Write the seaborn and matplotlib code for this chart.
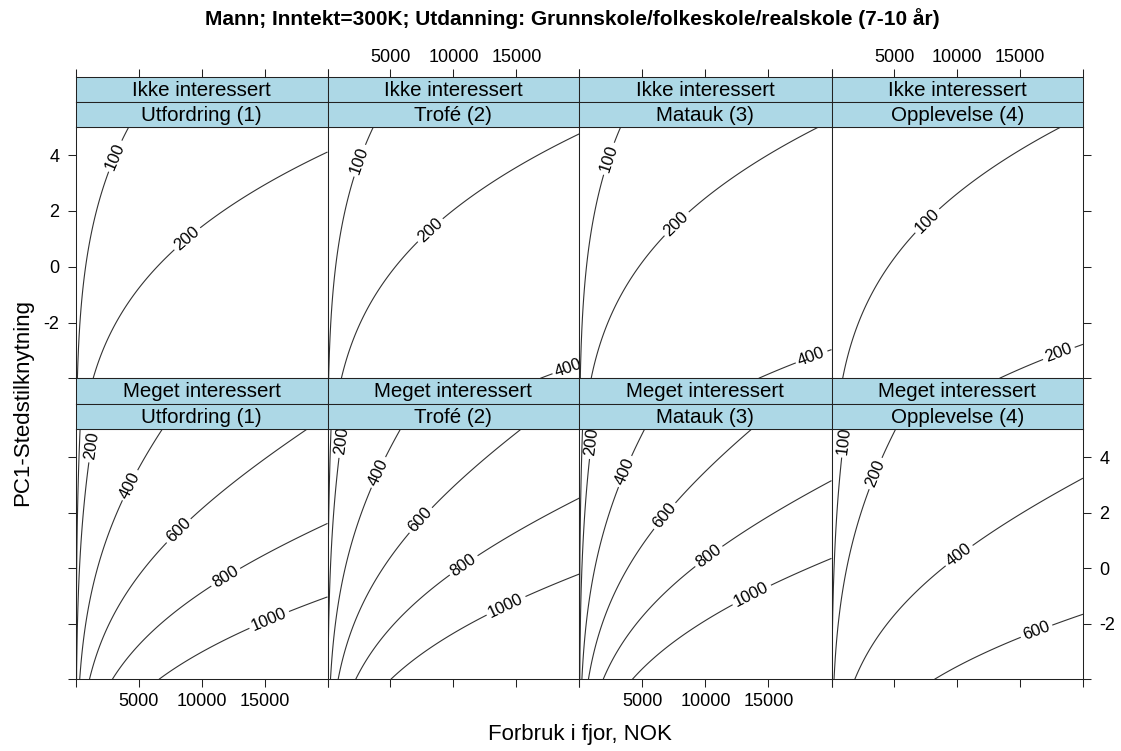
import numpy as np
import pandas as pd
import matplotlib
matplotlib.use("Agg")
import matplotlib.pyplot as plt
import seaborn as sns

# ---- text -------------------------------------------------------------
title = "Mann; Inntekt=300K; Utdanning: Grunnskole/folkeskole/realskole (7-10 år)"
x_label = "Forbruk i fjor, NOK"
y_label = "PC1-Stedstilknytning"

interest_levels = ["Ikke interessert", "Meget interessert"]
motive_levels = ["Utfordring (1)", "Trofé (2)", "Matauk (3)", "Opplevelse (4)"]

# ---- fitted model on the log scale ---------------------------------------
# log(verdi) = intercept[motiv] + b_L*L + b_L2*L^2 + b_pc1*pc1 + b_Lpc1*L*pc1 + b_pc1_2*pc1^2
# with L = log(1 + forbruk); one coefficient set per interest level
intercept_ikke = [2.190, 2.247, 2.28884, 1.61101]
intercept_meget = [2.69998, 2.77176, 2.81970, 2.13318]
coef_ikke = {"L": 0.39335, "L2": -0.00445, "pc1": -0.24427, "L_pc1": 0.01625, "pc1_2": -0.00047}
coef_meget = {"L": 0.52207, "L2": -0.01073, "pc1": -0.26305, "L_pc1": 0.01795, "pc1_2": 0.00159}

contour_levels = [100, 200, 400, 600, 800, 1000]
forbruk_range = [0, 20000]
pc1_range = [-4, 5]
x_ticks = [0, 5000, 10000, 15000, 20000]
x_tick_labels = ["", "5000", "10000", "15000", ""]
y_ticks = [-4, -2, 0, 2, 4]
y_tick_labels = ["", "-2", "0", "2", "4"]

# ---- prediction grid ------------------------------------------------------
grid_x = np.linspace(forbruk_range[0], forbruk_range[1], 401)
grid_y = np.linspace(pc1_range[0], pc1_range[1], 241)
XX, YY = np.meshgrid(grid_x, grid_y)
LX = np.log1p(XX)

frames = []
for interest, intercepts, cf in zip(interest_levels, [intercept_ikke, intercept_meget],
                                    [coef_ikke, coef_meget]):
    for motive, a in zip(motive_levels, intercepts):
        eta = (a + cf["L"] * LX + cf["L2"] * LX ** 2 + cf["pc1"] * YY
               + cf["L_pc1"] * LX * YY + cf["pc1_2"] * YY ** 2)
        frames.append(pd.DataFrame({
            "interest": interest, "motive": motive,
            "forbruk": XX.ravel(), "pc1": YY.ravel(), "verdi": np.exp(eta).ravel(),
        }))
df = pd.concat(frames, ignore_index=True)

# ---- figure / facets --------------------------------------------------------
sns.set_theme(style="white")
plt.rcParams["font.family"] = ["Liberation Sans", "DejaVu Sans"]
plt.rcParams["text.color"] = "black"
plt.rcParams["axes.labelcolor"] = "black"
plt.rcParams["xtick.color"] = "black"
plt.rcParams["ytick.color"] = "black"

W, H = 1121, 751
g = sns.FacetGrid(df, row="interest", col="motive",
                  row_order=interest_levels, col_order=motive_levels,
                  height=2.5, aspect=1.0, despine=False,
                  sharex=True, sharey=True)
fig = g.figure
fig.set_size_inches(W / 100, H / 100)
fig.set_dpi(100)
fig.patch.set_facecolor("white")

col_edges = [76, 327.5, 579.3, 831.5, 1083]
row_plot = [(127.3, 378.3), (429.3, 679.3)]
row_strips = [((77.3, 102.3), (102.3, 127.3)), ((378.3, 403.8), (403.8, 429.3))]

def px_box(x0, x1, y0, y1):
    return [x0 / W, 1 - y1 / H, (x1 - x0) / W, (y1 - y0) / H]

frame_col = "#222222"
strip_col = "#ADD8E6"
tick_kw = dict(direction="out", length=5.8, width=0.75, colors=frame_col,
               labelcolor="black", labelsize=13)

for i in range(2):
    for j in range(4):
        ax = g.axes[i, j]
        ax.set_position(px_box(col_edges[j], col_edges[j + 1], *row_plot[i]))
        ax.set_title("")
        ax.set_xlabel("")
        ax.set_ylabel("")
        ax.set_facecolor("white")
        ax.set_xlim(*forbruk_range)
        ax.set_ylim(*pc1_range)
        ax.set_xticks(x_ticks)
        ax.set_xticklabels(x_tick_labels)
        ax.set_yticks(y_ticks)
        ax.set_yticklabels(y_tick_labels)
        for s in ax.spines.values():
            s.set_color(frame_col)
            s.set_linewidth(0.75)
        ax.tick_params(axis="x", bottom=(i == 1), top=False,
                       labelbottom=(i == 1 and j in (0, 2)), labeltop=False,
                       pad=4, **tick_kw)
        ax.tick_params(axis="y", left=(j == 0), right=(j == 3),
                       labelleft=(i == 0 and j == 0),
                       labelright=(i == 1 and j == 3), pad=6, **tick_kw)

        # strips: interest level above, motive below
        for k, label in enumerate([interest_levels[i], motive_levels[j]]):
            sy0, sy1 = row_strips[i][k]
            sax = fig.add_axes(px_box(col_edges[j], col_edges[j + 1], sy0, sy1))
            sax.set_facecolor(strip_col)
            sax.set_xlim(*forbruk_range)
            sax.set_ylim(0, 1)
            for s in sax.spines.values():
                s.set_color(frame_col)
                s.set_linewidth(0.75)
            sax.set_yticks([])
            if i == 0 and k == 0:
                sax.set_xticks(x_ticks)
                sax.set_xticklabels(x_tick_labels)
                sax.tick_params(axis="x", top=True, bottom=False,
                                labeltop=(j in (1, 3)), labelbottom=False,
                                pad=2.5, **tick_kw)
            else:
                sax.set_xticks([])
            sax.text(0.5, 0.47, label, transform=sax.transAxes,
                     ha="center", va="center", fontsize=14.8, color="black")

# where the contour labels sit in each panel (data coordinates)
label_spots = {
    (0, 0): [(2940, 4.0), (8890, 0.98)],
    (0, 1): [(2330, 3.84), (8020, 1.38), (19000, -3.46)],
    (0, 2): [(2170, 3.9), (7670, 1.56), (18310, -3.1)],
    (0, 3): [(7540, 1.68), (17990, -3.0)],
    (1, 0): [(950, 4.43), (4020, 3.05), (7860, 1.49), (11560, -0.07), (15260, -1.75)],
    (1, 1): [(690, 4.6), (3660, 3.53), (7100, 1.85), (10530, 0.29), (13970, -1.15)],
    (1, 2): [(750, 4.55), (3370, 3.53), (6540, 1.97), (10100, 0.53), (13550, -0.85)],
    (1, 3): [(530, 4.61), (3170, 3.47), (9920, 0.59), (16270, -2.23)],
}

for (i, j, _), sub in g.facet_data():
    ax = g.axes[i, j]
    surf = sub.pivot(index="pc1", columns="forbruk", values="verdi")
    cs = ax.contour(surf.columns.values, surf.index.values, surf.values,
                    levels=contour_levels, colors="#333333", linewidths=0.8)
    ax.clabel(cs, manual=label_spots[(i, j)], inline=True, inline_spacing=3,
              fontsize=12, fmt="%d", colors="black")

fig.text(572 / W, 1 - 19 / H, title, ha="center", va="center",
         fontsize=15.0, fontweight="bold", color="black")
fig.text(579.5 / W, 1 - 740 / H, x_label, ha="center", va="baseline",
         fontsize=16, color="black")
fig.text(22.5 / W, 1 - 403 / H, y_label, ha="center", va="center",
         rotation=90, fontsize=16, color="black")

fig.savefig("out.png", dpi=100, facecolor="white")
